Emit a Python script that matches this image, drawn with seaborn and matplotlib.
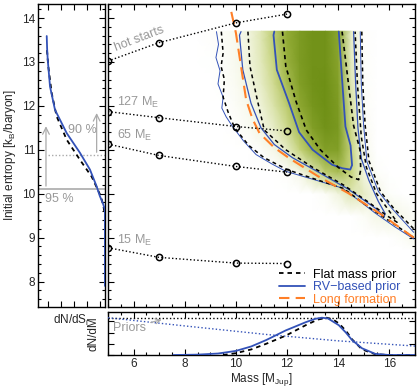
import numpy as np
import matplotlib
matplotlib.use("Agg")
import matplotlib.pyplot as plt
import seaborn as sns
from matplotlib.colors import LinearSegmentedColormap
from matplotlib.ticker import MultipleLocator
from matplotlib.lines import Line2D

sns.set_theme(style="ticks")
plt.rcParams["font.family"] = ["Liberation Sans", "DejaVu Sans"]
plt.rcParams["mathtext.fontset"] = "custom"
plt.rcParams["mathtext.rm"] = "Liberation Sans"
plt.rcParams["mathtext.it"] = "Liberation Sans:italic"

# ---------------- data ----------------
track_mass = [5, 7, 10, 12]
track_hot = [13.02, 13.44, 13.89, 14.09]
track_127 = [11.87, 11.73, 11.53, 11.43]
track_65 = [11.13, 10.87, 10.62, 10.49]
track_15 = [8.77, 8.55, 8.42, 8.41]

# 2D posterior density (mass x entropy grid)
grid_mass = [8.5, 9.0, 9.5, 10.0, 10.5, 11.0, 11.5, 12.0, 12.5, 13.0, 13.5, 14.0, 14.5, 15.0, 15.5, 16.0, 16.5, 17.0]
grid_entropy = [8.75, 9.0, 9.5, 10.0, 10.5, 11.0, 11.5, 12.0, 12.5, 13.0, 13.5, 13.7]
density = [
    [0, 0, 0, 0, 0, 0, 0, 0, 0, 0, 0, 0, 0, 0, 0, 0, 0, 0.03],
    [0, 0, 0, 0, 0, 0, 0, 0, 0, 0, 0, 0, 0, 0, 0, 0, 0.05, 0.12],
    [0, 0, 0, 0, 0, 0, 0, 0, 0, 0, 0, 0, 0, 0.05, 0.15, 0.2, 0.12, 0.04],
    [0, 0, 0, 0, 0, 0, 0, 0, 0, 0, 0.05, 0.2, 0.35, 0.3, 0.15, 0.03, 0, 0],
    [0, 0, 0, 0, 0, 0, 0, 0.03, 0.15, 0.35, 0.55, 0.65, 0.5, 0.2, 0.03, 0, 0, 0],
    [0, 0, 0, 0, 0, 0.04, 0.15, 0.3, 0.5, 0.7, 0.85, 0.85, 0.5, 0.12, 0, 0, 0, 0],
    [0, 0, 0, 0.02, 0.07, 0.18, 0.3, 0.45, 0.65, 0.85, 0.95, 0.9, 0.45, 0.08, 0, 0, 0, 0],
    [0, 0, 0, 0.05, 0.12, 0.25, 0.38, 0.55, 0.78, 0.92, 0.97, 0.88, 0.4, 0.05, 0, 0, 0, 0],
    [0, 0, 0.03, 0.08, 0.18, 0.3, 0.45, 0.65, 0.85, 0.95, 0.97, 0.85, 0.35, 0.04, 0, 0, 0, 0],
    [0, 0.01, 0.04, 0.1, 0.2, 0.33, 0.5, 0.72, 0.88, 0.95, 0.95, 0.82, 0.32, 0.03, 0, 0, 0, 0],
    [0, 0.02, 0.05, 0.1, 0.2, 0.35, 0.55, 0.75, 0.88, 0.95, 0.95, 0.8, 0.3, 0.02, 0, 0, 0, 0],
    [0, 0.02, 0.05, 0.1, 0.2, 0.35, 0.55, 0.75, 0.88, 0.95, 0.95, 0.8, 0.3, 0.02, 0, 0, 0, 0],
]

# credible-region contours (mass, entropy)
rv_outer_left_m = [9.24, 9.32, 9.22, 9.38, 9.3, 9.5, 9.45, 9.62, 9.87, 10.3, 10.79, 11.4, 11.95, 13.0, 14.15, 14.8, 15.44, 16.2, 16.95]
rv_outer_left_s = [13.69, 13.4, 13.1, 12.8, 12.5, 12.2, 11.95, 11.75, 11.53, 11.2, 10.89, 10.68, 10.51, 10.33, 10.13, 9.85, 9.56, 9.25, 8.97]
rv_outer_right_m = [14.86, 14.9, 14.99, 15.12, 15.57, 16.09, 16.95]
rv_outer_right_s = [13.69, 12.5, 11.57, 10.73, 10.05, 9.67, 9.12]
rv_mid_m = [10.2, 10.14, 10.27, 10.59, 10.98, 11.5, 12.21, 13.2, 14.4, 15.5, 15.8, 15.83, 15.57, 15.2, 14.9, 14.77, 14.68, 14.6]
rv_mid_s = [13.69, 13.61, 12.82, 12.06, 11.5, 11.12, 10.82, 10.5, 10.1, 9.65, 9.48, 9.55, 9.82, 10.3, 10.8, 11.5, 12.5, 13.69]
rv_inner_m = [11.5, 11.47, 11.6, 12.08, 12.47, 13.0, 13.76, 14.15, 14.47, 14.54, 14.48, 14.28, 14.15, 14.02]
rv_inner_s = [13.69, 13.61, 12.82, 12.06, 11.4, 11.0, 10.66, 10.58, 10.55, 10.65, 11.1, 11.53, 12.6, 13.69]

flat_outer_left_m = [9.43, 9.5, 9.42, 9.55, 9.5, 9.7, 9.95, 10.5, 11.1, 12.0, 13.0, 14.2, 15.3, 16.2, 16.95]
flat_outer_left_s = [13.69, 13.2, 12.9, 12.6, 12.2, 11.85, 11.5, 11.1, 10.82, 10.55, 10.35, 10.12, 9.65, 9.3, 9.0]
flat_outer_right_m = [14.92, 14.96, 15.05, 15.2, 15.65, 16.15, 16.95]
flat_outer_right_s = [13.69, 12.5, 11.57, 10.75, 10.05, 9.68, 9.2]
flat_mid_m = [10.47, 10.55, 10.85, 11.11, 11.95, 13.0, 14.2, 15.2, 15.9, 16.3, 16.0, 15.5, 15.1, 14.9, 14.75, 14.66]
flat_mid_s = [13.69, 12.9, 12.1, 11.45, 11.0, 10.6, 10.2, 9.8, 9.5, 9.35, 9.6, 10.0, 10.6, 11.3, 12.5, 13.69]
flat_inner_m = [11.82, 11.95, 12.35, 12.75, 13.3, 14.0, 14.5, 14.8, 14.88, 14.85, 14.6, 14.4, 14.15]
flat_inner_s = [13.69, 12.9, 12.1, 11.45, 11.0, 10.6, 10.38, 10.32, 10.55, 11.0, 11.55, 12.5, 13.69]

long_form_m = [9.82, 10.0, 10.2, 10.4, 10.65, 10.92, 11.5, 12.08, 13.2, 14.4, 15.7, 16.95]
long_form_s = [14.14, 13.66, 12.9, 12.14, 11.7, 11.38, 11.05, 10.81, 10.4, 10.01, 9.52, 9.0]

# marginal entropy distributions (left panel)
rv_dnds_s = [13.59, 13.3, 13.05, 12.44, 11.91, 11.38, 10.93, 10.55, 10.17, 9.94, 9.78, 9.64, 7.9]
rv_dnds = [0.866, 0.86, 0.851, 0.817, 0.743, 0.569, 0.371, 0.223, 0.124, 0.074, 0.03, 0.0, 0.0]
flat_dnds_s = [13.27, 12.89, 12.29, 11.76, 11.23, 10.77, 10.39, 9.94, 9.7, 9.5, 7.9]
flat_dnds = [0.862, 0.842, 0.792, 0.718, 0.569, 0.371, 0.198, 0.06, 0.02, 0.0, 0.0]
level_95 = 10.11
level_90 = 10.88

# marginal mass distributions (bottom panel)
rv_dndm_m = [7.55, 8.5, 9.3, 10.0, 10.6, 11.18, 11.95, 12.73, 13.1, 13.36, 13.6, 14.02, 14.3, 14.54, 14.93, 15.45, 16.0, 17.0]
rv_dndm = [0.0, 0.01, 0.04, 0.11, 0.23, 0.40, 0.66, 0.88, 0.97, 1.0, 0.98, 0.80, 0.60, 0.40, 0.18, 0.03, 0.0, 0.0]
flat_dndm_m = [9.5, 10.0, 10.6, 11.18, 11.95, 12.73, 13.2, 13.55, 13.8, 14.02, 14.3, 14.54, 14.93, 15.45, 16.0, 17.0]
flat_dndm = [0.0, 0.05, 0.15, 0.30, 0.52, 0.80, 0.95, 1.0, 0.95, 0.85, 0.65, 0.42, 0.15, 0.02, 0.0, 0.0]
prior_m = [5, 8, 11.2, 14, 17]
prior_rv = [1.0, 0.78, 0.55, 0.38, 0.24]
prior_flat = [1.0, 1.0, 1.0, 1.0, 1.0]

# ---------------- styling ----------------
BLUE = "#3352b8"
ORANGE = "#ff7f27"
GRAY = "#999999"
FS = 8.5

fig = plt.figure(figsize=(4.2, 3.9), dpi=100)
ax_l = fig.add_axes([0.0898, 0.2128, 0.160, 0.777])
ax_m = fig.add_axes([0.2571, 0.2128, 0.731, 0.777])
ax_b = fig.add_axes([0.2571, 0.0897, 0.731, 0.110])

for ax in (ax_l, ax_m, ax_b):
    ax.tick_params(which="both", direction="in", top=True, right=True, labelsize=FS,
                   width=0.8, color="black", pad=2)
    ax.tick_params(which="major", length=4)
    ax.tick_params(which="minor", length=2)
    for sp in ax.spines.values():
        sp.set_linewidth(1.0)
        sp.set_color("black")

# ----- main panel -----
cmap = LinearSegmentedColormap.from_list(
    "olive", ["#ffffff", "#eef2d6", "#c6d37c", "#93ac36", "#6a8c12"])
ax_m.pcolormesh(np.array(grid_mass), np.array(grid_entropy), np.array(density),
                shading="gouraud", cmap=cmap, vmin=0, vmax=1, zorder=0, rasterized=True)

for tr in (track_hot, track_127, track_65, track_15):
    sns.lineplot(x=track_mass, y=tr, ax=ax_m, color="black", lw=1.0, linestyle=(0, (1, 1.6)),
                 marker="o", markersize=4.5, markerfacecolor="none", markeredgecolor="black",
                 markeredgewidth=1.1, sort=False, estimator=None, zorder=5)

def contour(ax, m, s, **kw):
    sns.lineplot(x=m, y=s, ax=ax, sort=False, estimator=None, **kw)

contour(ax_m, rv_outer_left_m, rv_outer_left_s, color=BLUE, lw=0.7, zorder=3)
contour(ax_m, rv_outer_right_m, rv_outer_right_s, color=BLUE, lw=0.7, zorder=3)
contour(ax_m, rv_mid_m, rv_mid_s, color=BLUE, lw=0.9, zorder=3)
contour(ax_m, rv_inner_m, rv_inner_s, color=BLUE, lw=1.3, zorder=3)
dash = (0, (2.5, 2.2))
contour(ax_m, flat_outer_left_m, flat_outer_left_s, color="black", lw=1.1, linestyle=dash, zorder=3)
contour(ax_m, flat_outer_right_m, flat_outer_right_s, color="black", lw=1.1, linestyle=dash, zorder=3)
contour(ax_m, flat_mid_m, flat_mid_s, color="black", lw=1.1, linestyle=dash, zorder=3)
contour(ax_m, flat_inner_m, flat_inner_s, color="black", lw=1.2, linestyle=dash, zorder=3)
contour(ax_m, long_form_m, long_form_s, color=ORANGE, lw=1.5, linestyle=(0, (6, 3)), zorder=4)

ax_m.text(5.33, 13.24, "hot starts", color=GRAY, fontsize=9, rotation=21,
          ha="left", va="baseline", rotation_mode="anchor")
ax_m.text(5.36, 11.9, r"127 M$_\mathrm{E}$", color=GRAY, fontsize=9, ha="left", va="bottom")
ax_m.text(5.36, 11.16, r"65 M$_\mathrm{E}$", color=GRAY, fontsize=9, ha="left", va="bottom")
ax_m.text(5.36, 8.76, r"15 M$_\mathrm{E}$", color=GRAY, fontsize=9, ha="left", va="bottom")

handles = [
    Line2D([], [], color="black", lw=1.3, linestyle=(0, (2.5, 2.2))),
    Line2D([], [], color=BLUE, lw=1.3),
    Line2D([], [], color=ORANGE, lw=1.5, linestyle=(0, (5, 3))),
]
leg = ax_m.legend(handles, ["Flat mass prior", "RV\u2212based prior", "Long formation"],
                  loc="lower right", bbox_to_anchor=(0.98, -0.025), frameon=False,
                  fontsize=9, handlelength=2.1, handletextpad=0.6, labelspacing=0.05,
                  borderaxespad=0.3, labelcolor=["black", BLUE, ORANGE])

ax_m.set_xlim(5, 17)
ax_m.set_ylim(7.42, 14.32)
ax_m.xaxis.set_major_locator(MultipleLocator(2))
ax_m.xaxis.set_minor_locator(MultipleLocator(0.5))
ax_m.yaxis.set_major_locator(MultipleLocator(1))
ax_m.yaxis.set_minor_locator(MultipleLocator(0.2))
ax_m.set_xticklabels([])
ax_m.set_yticklabels([])
ax_m.set_xlabel("")
ax_m.set_ylabel("")

# ----- left panel -----
sns.lineplot(x=flat_dnds, y=flat_dnds_s, ax=ax_l, color="black", lw=1.3,
             linestyle=(0, (2.5, 2.2)), sort=False, estimator=None, zorder=3)
sns.lineplot(x=rv_dnds, y=rv_dnds_s, ax=ax_l, color=BLUE, lw=1.3, sort=False,
             estimator=None, zorder=4)
ax_l.axhline(level_95, color="#aaaaaa", lw=1.2, zorder=1)
ax_l.plot([0.0, 0.88], [level_90, level_90], color="#aaaaaa", lw=1.0, linestyle=(0, (1, 1.5)), zorder=1)
ax_l.annotate("", xy=(0.877, 11.6), xytext=(0.877, level_95),
              arrowprops=dict(arrowstyle="->", color="#aaaaaa", lw=0.9))
ax_l.annotate("", xy=(0.123, 11.9), xytext=(0.123, level_90),
              arrowprops=dict(arrowstyle="->", color="#aaaaaa", lw=0.9))
ax_l.text(0.34, 11.45, "90 %", color=GRAY, fontsize=9, ha="center", va="center")
ax_l.text(0.68, 9.88, "95 %", color=GRAY, fontsize=9, ha="center", va="center")
ax_l.set_xlim(1.0, 0.0)
ax_l.set_ylim(7.42, 14.32)
ax_l.set_xticks([0.07, 0.26, 0.455, 0.65, 0.845])
ax_l.set_xticklabels([])
ax_l.yaxis.set_major_locator(MultipleLocator(1))
ax_l.yaxis.set_minor_locator(MultipleLocator(0.2))
ax_l.set_xlabel(r"dN/dS$_\mathrm{i}$", fontsize=FS, labelpad=2)
ax_l.set_ylabel(r"Initial entropy [k$_\mathrm{B}$/baryon]", fontsize=FS, labelpad=3)

# ----- bottom panel -----
sns.lineplot(x=prior_m, y=prior_flat, ax=ax_b, color="black", lw=1.0,
             linestyle=(0, (1, 1.6)), sort=False, estimator=None, zorder=2)
sns.lineplot(x=prior_m, y=prior_rv, ax=ax_b, color=BLUE, lw=1.0,
             linestyle=(0, (1, 1.6)), sort=False, estimator=None, zorder=3)
sns.lineplot(x=flat_dndm_m, y=flat_dndm, ax=ax_b, color="black", lw=1.3,
             linestyle=(0, (2.5, 2.2)), sort=False, estimator=None, zorder=4)
sns.lineplot(x=rv_dndm_m, y=rv_dndm, ax=ax_b, color=BLUE, lw=1.3, sort=False,
             estimator=None, zorder=5)
ax_b.annotate("Priors", xy=(7.1, 0.95), xytext=(5.2, 0.72), color=GRAY, fontsize=9,
              ha="left", va="center",
              arrowprops=dict(arrowstyle="->", color="#aaaaaa", lw=0.9, shrinkA=1, shrinkB=0))
ax_b.set_xlim(5, 17)
ax_b.set_ylim(0, 1.15)
ax_b.xaxis.set_major_locator(MultipleLocator(2))
ax_b.xaxis.set_minor_locator(MultipleLocator(0.5))
ax_b.yaxis.set_major_locator(MultipleLocator(0.3))
ax_b.set_yticklabels([])
ax_b.set_xlabel(r"Mass [M$_\mathrm{Jup}$]", fontsize=FS, labelpad=1)
ax_b.set_ylabel("dN/dM", fontsize=FS, labelpad=4)

fig.savefig("out.png", dpi=100)
